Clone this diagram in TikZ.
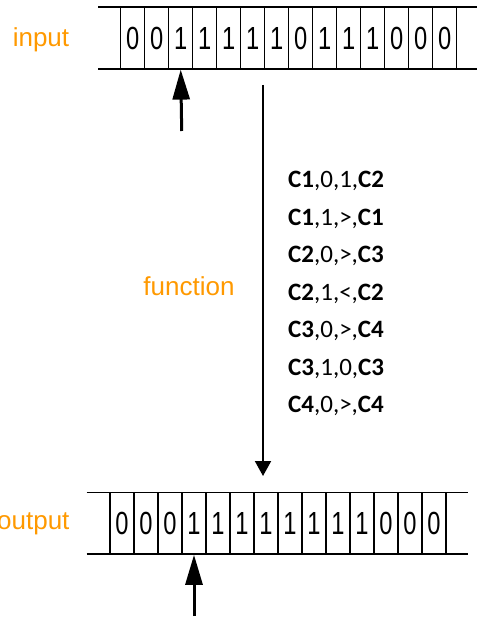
\documentclass[tikz,border=0pt]{standalone}
\usepackage{fontspec}
\setmainfont{Liberation Sans}
\newfontfamily\rulefont{Carlito}
\usetikzlibrary{arrows.meta}
\definecolor{labelorange}{HTML}{FF9900}

% narrow digit for a tape cell
\newcommand{\celldigit}[1]{\scalebox{0.74}[1]{#1}}

\begin{document}
\begin{tikzpicture}[x=1pt,y=-1pt,
    cell/.style={draw,line width=1.2pt,minimum width=24pt,minimum height=62pt,
      inner sep=0pt,font=\fontsize{32}{32}\selectfont},
    tapeline/.style={line width=1.5pt},
    tapelabel/.style={text=labelorange,font=\fontsize{26}{26}\selectfont},
    head/.style={line width=3pt,-{Triangle[width=17pt,length=30pt]}},
    rule/.style={anchor=west,inner sep=0pt,font=\rulefont\fontsize{25}{25}\selectfont}]
  \useasboundingbox (0,0) rectangle (477,617);

  % input tape
  \draw[tapeline] (98,7) -- (477,7) (98,69) -- (477,69);
  \foreach \d [count=\i] in {0,0,1,1,1,1,1,0,1,1,1,0,0,0}
    \node[cell] (in-\i) at ({120.7+24*(\i-0.5)},38) {\celldigit{\d}};
  \node[tapelabel] (inlabel) at (41,40) {input};
  \coordinate (inhead) at (181.7,131);
  \draw[head] (inhead) -- (in-3.south);

  % output tape
  \draw[tapeline] (86.7,492.3) -- (468.3,492.3) (86.7,554) -- (468.3,554);
  \foreach \d [count=\i] in {0,0,0,1,1,1,1,1,1,1,1,0,0,0}
    \node[cell] (out-\i) at ({110+24*(\i-0.5)},523.2) {\celldigit{\d}};
  \node[tapelabel,anchor=east] (outlabel) at (73,524) {output};
  \coordinate (outhead) at (194,616);
  \draw[head] (outhead) -- (out-4.south);

  % transition function
  \coordinate (fstart) at (263,85);
  \coordinate (fend) at (263,476);
  \draw[line width=2pt,-{Triangle[width=16pt,length=15pt]}] (fstart) -- (fend);
  \node[tapelabel] (flabel) at (189,286) {function};

  \foreach \a/\b/\c/\e [count=\k from 0] in
      {C1/0/1/C2, C1/1/>/C1, C2/0/>/C3, C2/1/</C2, C3/0/>/C4, C3/1/0/C3, C4/0/>/C4}
    \node[rule] (rule-\k) at (288,{181+37.5*\k}) {\textbf{\a},\b,\c,\textbf{\e}};
\end{tikzpicture}
\end{document}
